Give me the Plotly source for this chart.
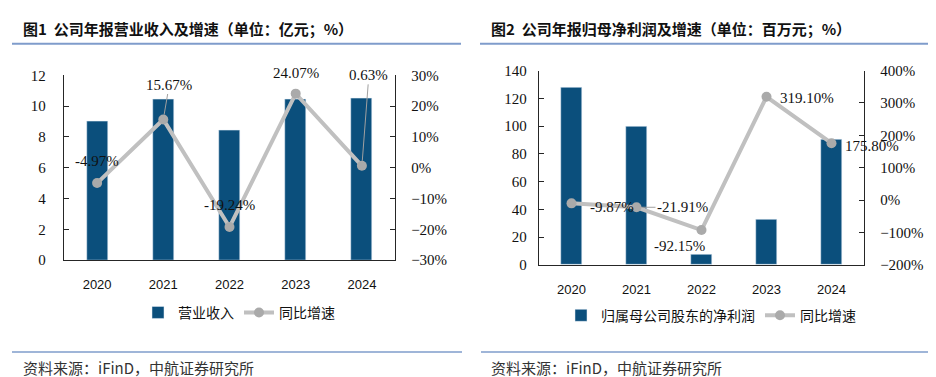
import plotly.graph_objects as go

# ---------------- data ----------------
years = ["2020", "2021", "2022", "2023", "2024"]
revenue = [9.00, 10.41, 8.41, 10.43, 10.50]          # 亿元
revenue_yoy = [-0.0497, 0.1567, -0.1924, 0.2407, 0.0063]
revenue_yoy_text = ["-4.97%", "15.67%", "-19.24%", "24.07%", "0.63%"]

net_profit = [127.9, 99.9, 7.84, 32.86, 90.6]         # 百万元
profit_yoy = [-0.0987, -0.2191, -0.9215, 3.1910, 1.7580]
profit_yoy_text = ["-9.87%", "-21.91%", "-92.15%", "319.10%", "175.80%"]

left_ticks = [0, 2, 4, 6, 8, 10, 12]
right_ticks = [0, 20, 40, 60, 80, 100, 120, 140]

title1 = "图1\u00a0\u00a0公司年报营业收入及增速（单位：亿元；%）"
title2 = "图2\u00a0\u00a0公司年报归母净利润及增速（单位：百万元；%）"
source = "资料来源：iFinD，中航证券研究所"

# ---------------- styles ----------------
W, H = 936, 377
BAR = "#0b4f7c"
LINE = "#c0c0c0"
MARK = "#aaaaaa"
AX = "#262626"
RULE = "#7f9ccb"
SERIF = "Liberation Serif"
SANS = "Liberation Sans"
CJK = "Noto Sans CJK SC"


def px(x):
    return x / W


def py(y):
    return 1 - y / H


fig = go.Figure()

# left chart
fig.add_trace(go.Bar(x=years, y=revenue, name="营业收入", marker_color=BAR,
                     width=0.32, xaxis="x", yaxis="y", legend="legend"))
fig.add_trace(go.Scatter(x=years, y=revenue_yoy, name="同比增速", mode="lines+markers",
                         line=dict(color=LINE, width=4),
                         marker=dict(color=MARK, size=10),
                         xaxis="x", yaxis="y2", legend="legend", cliponaxis=False))
# right chart
fig.add_trace(go.Bar(x=years, y=net_profit, name="归属母公司股东的净利润", marker_color=BAR,
                     width=0.32, xaxis="x2", yaxis="y3", legend="legend2"))
fig.add_trace(go.Scatter(x=years, y=profit_yoy, name="同比增速", mode="lines+markers",
                         line=dict(color=LINE, width=4),
                         marker=dict(color=MARK, size=10),
                         xaxis="x2", yaxis="y4", legend="legend2", cliponaxis=False))

tickfont = dict(family=SERIF, size=15, color="#111")
xfont = dict(family=SANS, size=13, color="#111")

common_y = dict(showgrid=False, zeroline=False, showline=True, linecolor=AX, linewidth=1.3,
                ticks="inside", ticklen=5, tickcolor=AX, tickfont=tickfont)
common_x = dict(showgrid=False, zeroline=False, showline=True, linecolor=AX, linewidth=1.3,
                ticks="", tickfont=xfont, ticklabelstandoff=12, type="category",
                range=[-0.5, len(years) - 0.5], categoryorder="array", categoryarray=years)

annotations = []
lab_font = dict(family=SERIF, size=15, color="#111")

# data labels, left chart: (xshift, yshift-in-pixels-down, leader)
left_off = [(0, -22, False), (6, -35, True), (0, -22, False), (0, -21, False), (7, -91, True)]
for i, (v, t, (dx, dy, lead)) in enumerate(zip(revenue_yoy, revenue_yoy_text, left_off)):
    if lead:
        annotations.append(dict(x=i, y=v, xref="x", yref="y2", text=t, showarrow=True,
                                ax=dx, ay=dy, arrowhead=0, arrowwidth=1, arrowcolor="#a0a0a0",
                                standoff=5, font=lab_font))
    else:
        annotations.append(dict(x=i, y=v, xref="x", yref="y2", text=t, showarrow=False,
                                xshift=dx, yshift=-dy, font=lab_font))

right_off = [(40, 4, False), (46, 0, True), (-22, 16, False), (40, 1, False), (40, 3, False)]
for i, (v, t, (dx, dy, lead)) in enumerate(zip(profit_yoy, profit_yoy_text, right_off)):
    if lead:
        annotations.append(dict(x=i, y=v, xref="x2", yref="y4", text=t, showarrow=True,
                                ax=dx, ay=dy, arrowhead=0, arrowwidth=1, arrowcolor="#a0a0a0",
                                standoff=5, font=lab_font))
    else:
        annotations.append(dict(x=i, y=v, xref="x2", yref="y4", text=t, showarrow=False,
                                xshift=dx, yshift=-dy, font=lab_font))

# titles and source
for txt, x in [(title1, 13), (title2, 481)]:
    annotations.append(dict(x=px(x), y=py(13), xref="paper", yref="paper", text="<b>" + txt + "</b>",
                            showarrow=False, xanchor="left", yanchor="middle",
                            font=dict(family=CJK, size=15, color="#111")))
for x in [13, 481]:
    annotations.append(dict(x=px(x), y=py(367), xref="paper", yref="paper", text=source,
                            showarrow=False, xanchor="left", yanchor="middle",
                            font=dict(family=CJK, size=15, color="#333")))

shapes = []
for x0, x1 in [(4, 453), (472, 930)]:
    shapes.append(dict(type="line", xref="paper", yref="paper", x0=px(x0), x1=px(x1),
                       y0=py(29), y1=py(29), line=dict(color=RULE, width=2)))
for x0, x1 in [(4, 454), (473, 931)]:
    shapes.append(dict(type="line", xref="paper", yref="paper", x0=px(x0), x1=px(x1),
                       y0=py(351), y1=py(351), line=dict(color=RULE, width=1.5)))

legend_common = dict(orientation="h", xanchor="center", yanchor="middle",
                     font=dict(family=CJK, size=14, color="#111"),
                     bgcolor="rgba(0,0,0,0)", itemwidth=30, tracegroupgap=0)

fig.update_layout(
    width=W, height=H, margin=dict(l=0, r=0, t=0, b=0),
    paper_bgcolor="white", plot_bgcolor="white", bargap=0,
    xaxis=dict(domain=[px(56), px(387)], anchor="y", **common_x),
    yaxis=dict(domain=[py(255), py(62)], range=[0, 12], tickvals=left_ticks,
               ticklabelstandoff=14, anchor="x", **common_y),
    yaxis2=dict(overlaying="y", side="right", range=[-0.3, 0.3], dtick=0.1, tick0=0,
                tickformat=".0%", ticklabelstandoff=12, anchor="x", **common_y),
    xaxis2=dict(domain=[px(531), px(856)], anchor="y3", **common_x),
    yaxis3=dict(domain=[py(260), py(57)], range=[0, 140], tickvals=right_ticks,
                ticklabelstandoff=8, anchor="x2", **common_y),
    yaxis4=dict(overlaying="y3", side="right", range=[-2, 4], dtick=1, tick0=0,
                tickformat=".0%", ticklabelstandoff=12, anchor="x2", **common_y),
    legend=dict(x=px(231), y=py(310), **legend_common),
    legend2=dict(x=px(703), y=py(313), **legend_common),
    annotations=annotations, shapes=shapes, showlegend=True,
)

fig.write_html("out.html")
